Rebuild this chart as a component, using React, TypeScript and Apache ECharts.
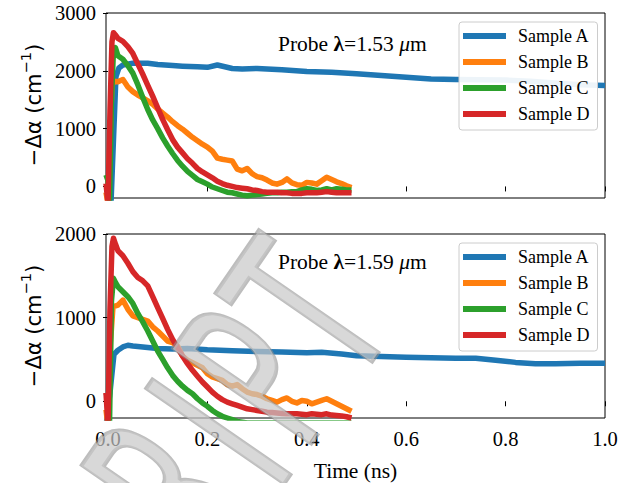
import React, { useEffect, useRef } from "react";
import * as echarts from "echarts";

const seriesNames = ["Sample A", "Sample B", "Sample C", "Sample D"];
const seriesColors = ["#1f77b4", "#ff7f0e", "#2ca02c", "#d62728"];
const xTicks = [0, 0.2, 0.4, 0.6, 0.8, 1.0];
const yTicksTop = [0, 1000, 2000, 3000];
const yTicksBottom = [0, 1000, 2000];
const probeTop = "1.53";
const probeBottom = "1.59";

// shared tail time grid (ns) for samples B, C, D
const tailTimes = [
  0.03, 0.04, 0.05, 0.06, 0.07, 0.08, 0.09, 0.1, 0.11, 0.12,
  0.13, 0.14, 0.15, 0.16, 0.17, 0.18, 0.19, 0.2, 0.21, 0.22,
  0.23, 0.24, 0.25, 0.26, 0.27, 0.28, 0.29, 0.3, 0.31, 0.32,
  0.33, 0.34, 0.35, 0.36, 0.37, 0.38, 0.39, 0.4, 0.41, 0.42,
  0.43, 0.44, 0.45, 0.46, 0.47, 0.48, 0.49,
];

// ---- Probe 1.53 um ----
const topA_t = [-0.004, 0.006, 0.016, 0.022, 0.03, 0.05, 0.08, 0.1, 0.13, 0.15, 0.18, 0.2, 0.22, 0.25, 0.27, 0.3, 0.35, 0.4, 0.45, 0.5, 0.55, 0.6, 0.65, 0.7, 0.75, 0.8, 0.85, 0.9, 0.95, 1.0];
const topA_v = [-300, -300, 1900, 2050, 2100, 2130, 2130, 2110, 2090, 2080, 2070, 2060, 2100, 2040, 2030, 2040, 2020, 1990, 1975, 1950, 1920, 1890, 1860, 1850, 1845, 1840, 1820, 1790, 1760, 1745];

const topB_early_t = [-0.004, 0.0, 0.004, 0.008, 0.012, 0.02];
const topB_early_v = [-100, -300, 800, 1750, 1820, 1810];
const topB_tail_v = [
  1850, 1720, 1640, 1580, 1530, 1480, 1420, 1340, 1270, 1200,
  1120, 1050, 990, 920, 850, 790, 730, 680, 610, 490,
  470, 455, 440, 300, 270, 310, 220, 170, 150, 110,
  60, 40, 70, 130, 60, 30, 20, 70, 60, 40,
  100, 160, 120, 80, 50, 10, -20,
];

const topC_early_t = [-0.004, 0.0, 0.003, 0.007, 0.011, 0.015, 0.02];
const topC_early_v = [200, 100, -300, 1500, 2350, 2400, 2260];
const topC_tail_v = [
  2200, 2090, 1960, 1760, 1540, 1330, 1150, 1000, 840, 700,
  570, 450, 350, 260, 190, 120, 80, 40, -10, -40,
  -70, -100, -110, -130, -150, -160, -150, -140, -130, -120,
  -110, -110, -100, -100, -90, -90, -60, -40, -50, -70,
  -60, -40, -60, -40, -50, -60, -60,
];

const topD_early_t = [-0.004, 0.0, 0.004, 0.008, 0.011, 0.015, 0.02];
const topD_early_v = [50, -300, 1300, 2500, 2660, 2620, 2560];
const topD_tail_v = [
  2510, 2420, 2300, 2120, 1940, 1750, 1560, 1360, 1160, 980,
  810, 680, 580, 480, 400, 310, 250, 200, 150, 90,
  50, 20, 0, -20, -30, -40, -60, -70, -90, -100,
  -100, -100, -110, -110, -120, -120, -120, -110, -110, -110,
  -100, -90, -100, -110, -110, -110, -110,
];

// ---- Probe 1.59 um ----
const botA_t = [-0.004, 0.004, 0.012, 0.02, 0.03, 0.04, 0.05, 0.07, 0.1, 0.13, 0.16, 0.2, 0.25, 0.3, 0.35, 0.4, 0.43, 0.47, 0.5, 0.55, 0.6, 0.65, 0.7, 0.74, 0.78, 0.82, 0.86, 0.9, 0.95, 1.0];
const botA_v = [-300, 100, 560, 610, 650, 670, 660, 650, 630, 625, 630, 615, 605, 595, 590, 580, 585, 565, 545, 535, 525, 520, 515, 515, 490, 465, 450, 448, 455, 455];

const botB_early_t = [-0.004, 0.0, 0.005, 0.01, 0.02];
const botB_early_v = [-100, -300, 700, 1130, 1150];
const botB_tail_v = [
  1210, 1100, 1020, 1000, 980, 960, 890, 840, 780, 720,
  700, 660, 540, 490, 460, 430, 400, 330, 290, 270,
  250, 200, 180, 200, 150, 110, 90, 80, 60, 30,
  10, -10, 20, 40, 0, -20, 10, 0, -30, -10,
  10, 30, 0, -30, -60, -90, -120,
];

const botC_early_t = [-0.004, 0.0, 0.003, 0.007, 0.011, 0.015, 0.02];
const botC_early_v = [100, 50, -300, 1200, 1470, 1420, 1370];
const botC_tail_v = [
  1310, 1250, 1170, 1050, 950, 840, 720, 600, 500, 400,
  310, 240, 180, 130, 90, 30, -20, -60, -110, -150,
  -180, -200, -220, -240, -250, -260, -260, -260, -260, -260,
  -260, -260, -260, -260, -260, -260, -260, -260, -260, -260,
  -260, -260, -260, -260, -260, -260, -260,
];

const botD_early_t = [-0.004, 0.0, 0.004, 0.008, 0.011, 0.015, 0.02];
const botD_early_v = [100, -300, 1100, 1850, 1950, 1880, 1800];
const botD_tail_v = [
  1740, 1650, 1550, 1480, 1440, 1380, 1250, 1120, 990, 860,
  740, 640, 540, 450, 370, 300, 230, 170, 110, 60,
  20, -10, -30, -50, -70, -90, -100, -110, -120, -130,
  -135, -140, -145, -150, -150, -150, -155, -160, -150, -155,
  -160, -150, -165, -170, -175, -185, -200,
];

const watermarkLetters = ["R", "I", "P", "T"];

function zip(t: number[], v: number[]): number[][] {
  const n = Math.min(t.length, v.length);
  const out: number[][] = [];
  for (let i = 0; i < n; i++) out.push([t[i], v[i]]);
  return out;
}

const SERIF = "'Liberation Serif', 'Times New Roman', serif";
const SANS = "'DejaVu Sans', sans-serif";

export default function App() {
  const ref = useRef<HTMLDivElement>(null);
  useEffect(() => {
    if (!ref.current) return;
    const chart = echarts.init(ref.current, undefined, { renderer: "svg" });

    const panels = [
      [
        zip(topA_t, topA_v),
        zip([...topB_early_t, ...tailTimes], [...topB_early_v, ...topB_tail_v]),
        zip([...topC_early_t, ...tailTimes], [...topC_early_v, ...topC_tail_v]),
        zip([...topD_early_t, ...tailTimes], [...topD_early_v, ...topD_tail_v]),
      ],
      [
        zip(botA_t, botA_v),
        zip([...botB_early_t, ...tailTimes], [...botB_early_v, ...botB_tail_v]),
        zip([...botC_early_t, ...tailTimes], [...botC_early_v, ...botC_tail_v]),
        zip([...botD_early_t, ...tailTimes], [...botD_early_v, ...botD_tail_v]),
      ],
    ];

    const grids = [
      { left: 106, top: 13, width: 499, height: 185 },
      { left: 106, top: 234, width: 499, height: 185 },
    ].map((g) => ({ ...g, show: true, borderColor: "#000", borderWidth: 1, backgroundColor: "transparent", containLabel: false }));

    const xAxes = [0, 1].map((i) => ({
      type: "value",
      gridIndex: i,
      min: -0.004,
      max: 1.0,
      axisLine: { show: false },
      splitLine: { show: false },
      axisTick: { show: true, inside: false, length: 5, customValues: xTicks, lineStyle: { color: "#000", width: 1 } },
      axisLabel: {
        show: i === 1,
        customValues: xTicks,
        formatter: (v: number) => v.toFixed(1),
        fontFamily: SERIF,
        fontSize: 20.5,
        color: "#000",
        margin: 10,
      },
      name: i === 1 ? "Time (ns)" : "",
      nameLocation: "middle",
      nameGap: 42,
      nameTextStyle: { fontFamily: SERIF, fontSize: 21.5, color: "#000" },
    }));

    const yAxes = [0, 1].map((i) => ({
      type: "value",
      gridIndex: i,
      min: -200,
      max: i === 0 ? 3000 : 2000,
      axisLine: { show: false },
      splitLine: { show: false },
      axisTick: { show: true, inside: false, length: 5, customValues: i === 0 ? yTicksTop : yTicksBottom, lineStyle: { color: "#000", width: 1 } },
      axisLabel: {
        customValues: i === 0 ? yTicksTop : yTicksBottom,
        formatter: (v: number) => String(v),
        fontFamily: SERIF,
        fontSize: 20.5,
        color: "#000",
        margin: 10,
      },
    }));

    const series: any[] = [];
    panels.forEach((panel, pi) => {
      panel.forEach((data, si) => {
        series.push({
          type: "line",
          name: seriesNames[si],
          xAxisIndex: pi,
          yAxisIndex: pi,
          data,
          symbol: "none",
          showSymbol: false,
          clip: true,
          color: seriesColors[si],
          lineStyle: { width: 5.5, color: seriesColors[si], join: "round" },
          emphasis: { disabled: true },
          z: 2 + si,
        });
      });
    });

    const legends = [22, 243].map((top) => ({
      top,
      left: 459,
      orient: "vertical",
      data: seriesNames,
      icon: "rect",
      itemWidth: 43,
      itemHeight: 6,
      itemGap: 6,
      padding: [4, 8, 6, 4],
      backgroundColor: "rgba(255,255,255,0.92)",
      borderColor: "#cccccc",
      borderWidth: 1,
      borderRadius: 3,
      selectedMode: false,
      textStyle: { fontFamily: SERIF, fontSize: 18, color: "#000", lineHeight: 20, padding: [0, 0, 0, 7] },
    }));

    const probeText = (val: string, y: number) => ({
      type: "text",
      x: 278,
      y,
      z: 10,
      style: {
        text: `{n|Probe }{l|λ}{n|=${val} }{m|μ}{n|m}`,
        textVerticalAlign: "middle",
        verticalAlign: "middle",
        rich: {
          n: { fontFamily: SERIF, fontSize: 21.5, fill: "#000", color: "#000" },
          l: { fontFamily: SERIF, fontSize: 21.5, fontWeight: "bold", fill: "#000", color: "#000" },
          m: { fontFamily: SERIF, fontSize: 21.5, fontStyle: "italic", fill: "#000", color: "#000" },
        },
      },
    });

    const yLabel = (cy: number) => ({
      type: "text",
      x: 31,
      y: cy,
      rotation: Math.PI / 2,
      z: 10,
      style: {
        text: "{n|−Δα (cm}{s|−1}{n|)}",
        textAlign: "center",
        align: "center",
        textVerticalAlign: "middle",
        verticalAlign: "middle",
        rich: {
          n: { fontFamily: SANS, fontSize: 21, fill: "#000", color: "#000", lineHeight: 26, verticalAlign: "bottom" },
          s: { fontFamily: SANS, fontSize: 14.5, fill: "#000", color: "#000", lineHeight: 14, verticalAlign: "top" },
        },
      },
    });

    const wmPos = [
      [172, 490],
      [222, 434],
      [260, 378],
      [310, 312],
    ];
    const watermark = watermarkLetters.map((ch, i) => ({
      type: "text",
      x: wmPos[i][0],
      y: wmPos[i][1],
      rotation: 0.967,
      scaleX: 0.55,
      z: 50,
      silent: true,
      style: {
        text: ch,
        font: `230px ${SANS}`,
        fontFamily: SANS,
        fontWeight: "normal",
        fontSize: 230,
        fill: "rgba(200,200,200,0.7)",
        stroke: "rgba(145,145,145,0.6)",
        lineWidth: 4,
        lineJoin: "round",
        textAlign: "center",
        align: "center",
        textVerticalAlign: "middle",
        verticalAlign: "middle",
        shadowBlur: 3,
        shadowColor: "rgba(0,0,0,0.22)",
        shadowOffsetX: 2,
        shadowOffsetY: 2,
      },
    }));

    chart.setOption({
      animation: false,
      backgroundColor: "#ffffff",
      grid: grids,
      xAxis: xAxes,
      yAxis: yAxes,
      legend: legends,
      series,
      graphic: [probeText(probeTop, 44), probeText(probeBottom, 262), yLabel(105), yLabel(326), ...watermark],
    });

    return () => chart.dispose();
  }, []);

  return (
    <div
      ref={ref}
      style={{ position: "fixed", left: 0, top: 0, width: 639, height: 483, background: "#fff" }}
    />
  );
}
